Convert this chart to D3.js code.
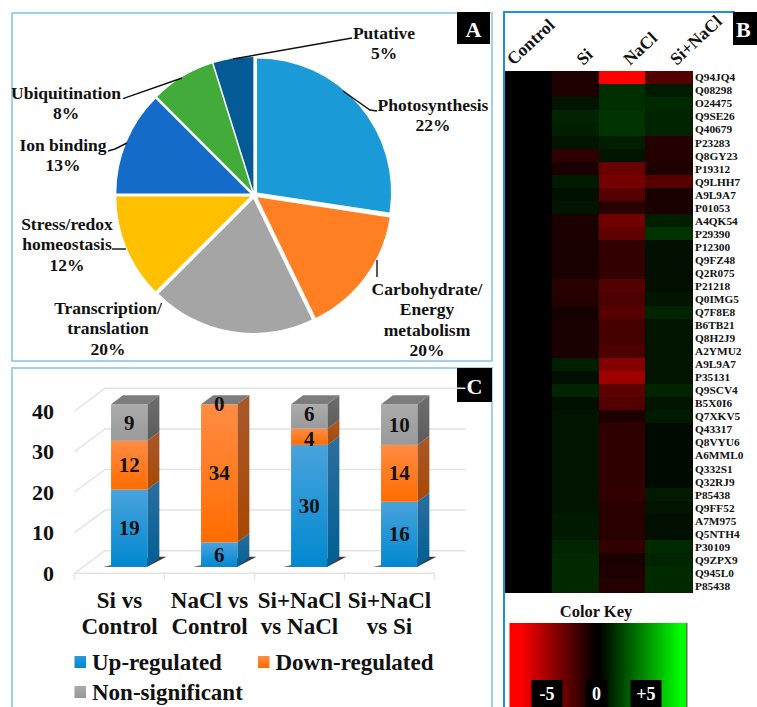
<!DOCTYPE html>
<html>
<head>
<meta charset="utf-8">
<script src="https://cdn.jsdelivr.net/npm/d3@7"></script>
<style>
  html, body { margin: 0; padding: 0; background: #fff; }
  svg { display: block; font-family: "Liberation Serif", serif; font-weight: bold; }
</style>
</head>
<body>
<svg width="757" height="707"></svg>
<script>
// Panel A. The slices in the picture are not drawn to their printed percentages,
// so the drawn shares and the printed labels are kept apart
const pieNames = ["Photosynthesis", "Carbohydrate", "Transcription", "Stress", "Ion binding", "Ubiquitination", "Putative"];
const pieShares = [27.4, 15.4, 19.7, 12.5, 12.5, 7.7, 4.8];
const piePercents = ["22%", "20%", "20%", "12%", "13%", "8%", "5%"];
const pieColors = ["#1a9ad6", "#ff7f22", "#a5a5a5", "#ffc000", "#146cc8", "#43ab3a", "#045a94"];

// Panel B
const heatColumns = ["Control", "Si", "NaCl", "Si+NaCl"];
const proteinIds = ["Q94JQ4", "Q08298", "O24475", "Q9SE26", "Q40679", "P23283", "Q8GY23", "P19312", "Q9LHH7", "A9L9A7",
  "P01053", "A4QK54", "P29390", "P12300", "Q9FZ48", "Q2R075", "P21218", "Q0IMG5", "Q7F8E8", "B6TB21",
  "Q8H2J9", "A2YMU2", "A9L9A7", "P35131", "Q9SCV4", "B5X0I6", "Q7XKV5", "Q43317", "Q8VYU6", "A6MML0",
  "Q332S1", "Q32RJ9", "P85438", "Q9FF52", "A7M975", "Q5NTH4", "P30109", "Q9ZPX9", "Q945L0", "P85438"];
const controlValues = [0, 0, 0, 0, 0, 0, 0, 0, 0, 0, 0, 0, 0, 0, 0, 0, 0, 0, 0, 0,
  0, 0, 0, 0, 0, 0, 0, 0, 0, 0, 0, 0, 0, 0, 0, 0, 0, 0, 0, 0];
const siValues = [-0.6, -0.6, 0.4, 0.7, 0.6, 0.4, -0.9, -0.5, 0.5, 0.3, 0.4, -0.5, -0.5, -0.5, -0.5, -0.5, -0.8, -0.7, -0.4, -0.5,
  -0.5, -0.5, 0.6, 0.3, 0.7, 0.3, 0.4, 0.4, 0.4, 0.4, 0.4, 0.4, 0.4, 0.4, 0.5, 0.5, 0.7, 0.8, 0.8, 0.8];
const naclValues = [-5, 0.9, 0.9, 1.0, 1.0, 0.6, 0.4, -2.1, -2.3, -1.7, -0.8, -2.2, -1.9, -1.0, -1.0, -1.0, -1.6, -1.5, -1.7, -1.4,
  -1.4, -1.5, -2.6, -3.1, -1.8, -1.6, -0.6, -0.9, -0.9, -0.9, -0.9, -0.9, -1.0, -0.8, -0.8, -0.8, -1.0, -0.5, -0.6, -0.7];
const siNaclValues = [-1.6, 0.5, 0.8, 0.7, 0.7, -0.7, -0.7, -0.6, -1.7, -0.5, -0.5, 0.6, 1.0, 0.3, 0.3, 0.3, 0.3, 0.4, 0.7, 0.4,
  0.4, 0.4, 0.4, 0.4, 0.7, 0.4, 0.5, 0.2, 0.2, 0.2, 0.2, 0.2, 0.5, 0.4, 0.3, 0.3, 0.8, 0.7, 0.8, 0.8];
const keyTicks = [-5, 0, 5];
const keyTickLabels = ["-5", "0", "+5"];

// Panel C
const barCategories = [["Si vs", "Control"], ["NaCl vs", "Control"], ["Si+NaCl", "vs NaCl"], ["Si+NaCl", "vs Si"]];
const upRegulated = [19, 6, 30, 16];
const downRegulated = [12, 34, 4, 14];
const nonSignificant = [9, 0, 6, 10];
const barTicks = [0, 10, 20, 30, 40];
const legendNames = ["Up-regulated", "Down-regulated", "Non-significant"];

const svg = d3.select("svg");
const defs = svg.append("defs");

function addGradient(id, top, bottom) {
    const g = defs.append("linearGradient").attr("id", id)
        .attr("x1", 0).attr("y1", 0).attr("x2", 0).attr("y2", 1);
    g.append("stop").attr("offset", "0%").attr("stop-color", top);
    g.append("stop").attr("offset", "100%").attr("stop-color", bottom);
}

function drawPanels() {
    svg.append("rect").attr("x", 12).attr("y", 13).attr("width", 480).attr("height", 348)
        .attr("fill", "none").attr("stroke", "#9ed2ef").attr("stroke-width", 2);
    svg.append("path").attr("d", "M12,710V368H492V710")
        .attr("fill", "none").attr("stroke", "#9ed2ef").attr("stroke-width", 2);
    svg.append("path").attr("d", "M504,710V12H735")
        .attr("fill", "none").attr("stroke", "#1f8fd6").attr("stroke-width", 2);

    const badges = [["A", 457, 12, 33, 32], ["B", 733, 12, 24, 33], ["C", 457, 368, 35, 34]];
    badges.forEach(([t, x, y, w, h]) => {
        svg.append("rect").attr("x", x).attr("y", y).attr("width", w).attr("height", h).attr("fill", "#000");
        svg.append("text").attr("x", x + (t == "B" ? 3 : w / 2)).attr("y", y + h / 2 + 1)
            .attr("text-anchor", t == "B" ? "start" : "middle").attr("dominant-baseline", "central")
            .attr("fill", "#fff").style("font-size", "22px").text(t);
    });
}

function drawPie() {
    const cx = 254, cy = 195, radius = 134, explode = 4;
    const arcs = d3.pie().sort(null)(pieShares);
    const arc = d3.arc().innerRadius(0).outerRadius(radius);

    svg.append("g").selectAll("path")
        .data(arcs)
        .enter()
        .append("path")
        .attr("d", arc)
        .attr("fill", (d, i) => pieColors[i])
        .attr("transform", d => {
            const mid = (d.startAngle + d.endAngle) / 2;
            return `translate(${cx + explode * Math.sin(mid)}, ${cy - explode * Math.cos(mid)})`;
        });

    // подписи: строки, центр первой строки, линия-выноска
    const layout = [
        { lines: ["Photosynthesis"], x: 433, y: 105, leader: [[377, 111], [370, 110], [343, 91]] },
        { lines: ["Carbohydrate/", "Energy", "metabolism"], x: 427, y: 289, leader: [[377, 260], [377, 277]] },
        { lines: ["Transcription/", "translation"], x: 108, y: 308, leader: null },
        { lines: ["Stress/redox", "homeostasis"], x: 67, y: 224, leader: [[112, 249], [126, 249]] },
        { lines: ["Ion binding"], x: 63, y: 145, leader: [[108, 151], [115, 149], [127, 143]] },
        { lines: ["Ubiquitination"], x: 66, y: 93, leader: [[123, 98.7], [182, 78]] },
        { lines: ["Putative"], x: 384, y: 33, leader: [[352, 38], [233, 59]] }
    ];

    layout.forEach((l, i) => {
        l.lines.concat(piePercents[i]).forEach((t, k) => {
            svg.append("text").attr("x", l.x).attr("y", l.y + k * 20.3)
                .attr("text-anchor", "middle").attr("dominant-baseline", "central")
                .style("font-size", "17.5px").attr("fill", "#111").text(t);
        });
        if (l.leader) {
            svg.append("path").attr("d", d3.line()(l.leader))
                .attr("fill", "none").attr("stroke", "#111").attr("stroke-width", 1.4);
        }
    });
}

function drawHeatmap() {
    const scaleX = d3.scaleBand().domain(heatColumns).range([505, 692]);
    const scaleY = d3.scaleBand().domain(d3.range(proteinIds.length)).range([70.8, 592.4]);
    const color = d3.scaleLinear().domain([-5, 0, 5]).range(["#ff0000", "#000000", "#00ff00"]);
    const columnValues = [controlValues, siValues, naclValues, siNaclValues];

    heatColumns.forEach((name, c) => {
        svg.append("g").attr("shape-rendering", "crispEdges").selectAll("rect")
            .data(columnValues[c])
            .enter()
            .append("rect")
            .attr("x", scaleX(name))
            .attr("y", (d, i) => scaleY(i))
            .attr("width", scaleX.bandwidth() + 0.5)
            .attr("height", scaleY.bandwidth() + 0.5)
            .attr("fill", d => color(d));

        const shift = name == "Control" ? -15 : 8;
        svg.append("text")
            .attr("transform", `translate(${scaleX(name) + scaleX.bandwidth() / 2 + shift}, 66) rotate(-43)`)
            .style("font-size", "17.5px").attr("fill", "#111").text(name);
    });

    svg.append("g").selectAll("text")
        .data(proteinIds)
        .enter()
        .append("text")
        .attr("x", 695)
        .attr("y", (d, i) => scaleY(i) + scaleY.bandwidth() / 2)
        .attr("dominant-baseline", "central")
        .style("font-size", "11.3px").attr("fill", "#111")
        .text(d => d);

    // цветовая шкала
    svg.append("text").attr("x", 596).attr("y", 611).attr("text-anchor", "middle")
        .attr("dominant-baseline", "central").style("font-size", "16.5px").attr("fill", "#111").text("Color Key");

    const grad = defs.append("linearGradient").attr("id", "keyGrad");
    [[0.06, -5], [0.49, 0], [0.51, 0], [0.97, 5]].forEach(([o, v]) => {
        grad.append("stop").attr("offset", o).attr("stop-color", color(v));
    });
    svg.append("rect").attr("x", 509.5).attr("y", 623).attr("width", 177).attr("height", 84).attr("fill", "url(#keyGrad)");
    svg.append("rect").attr("x", 686).attr("y", 623).attr("width", 1.5).attr("height", 84).attr("fill", "#666");

    const keyX = d3.scaleLinear().domain([-5, 5]).range([547, 646]);
    const boxWidths = [31, 22, 31];
    keyTicks.forEach((v, i) => {
        svg.append("rect").attr("x", keyX(v) - boxWidths[i] / 2).attr("y", 680).attr("width", boxWidths[i]).attr("height", 27).attr("fill", "#000");
        svg.append("text").attr("x", keyX(v)).attr("y", 694).attr("text-anchor", "middle")
            .attr("dominant-baseline", "central").attr("fill", "#fff").style("font-size", "18px").text(keyTickLabels[i]);
    });
}

function drawBars() {
    addGradient("upFront", "#4aa3dd", "#0088d0");
    addGradient("upSide", "#2c6f9f", "#005f94");
    addGradient("downFront", "#ff8c44", "#ff6c00");
    addGradient("downSide", "#a9582c", "#a84800");
    addGradient("nonFront", "#ababab", "#9a9a9a");
    addGradient("nonSide", "#6e6e6e", "#5c5c5c");
    addGradient("legUp", "#2a98dc", "#0088d0");
    addGradient("legDown", "#ff8c44", "#ff6c00");
    addGradient("legNon", "#ababab", "#979797");

    const depthX = 12, depthY = 9;
    const axisX = d3.scaleBand().domain(d3.range(barCategories.length)).range([74.5, 434.5]);
    const scaleY = d3.scaleLinear().domain([0, 40]).range([566.7, 404.3]);
    const floorY = d3.scaleLinear().domain([0, 40]).range([573.3, 411]);
    const wallY = d3.scaleLinear().domain([0, 40]).range([550.7, 388.3]);
    const wallX0 = 105, wallX1 = 465.5;

    // задняя стенка и сетка
    const grid = svg.append("g").attr("stroke", "#e4e4e4").attr("stroke-width", 1.5).attr("fill", "none");
    barTicks.forEach(v => {
        grid.append("path").attr("d", `M${axisX.range()[0]},${floorY(v)}L${wallX0},${wallY(v)}L${wallX1},${wallY(v)}`);
    });
    grid.append("path").attr("d", `M74.5,${floorY(0)}H434.5`);
    d3.range(barCategories.length + 1).forEach(i => {
        const x = 74.5 + i * axisX.step();
        grid.append("path").attr("d", `M${x},${floorY(0)}v6.5`);
    });

    svg.append("g").selectAll("text")
        .data(barTicks)
        .enter()
        .append("text")
        .attr("x", 54)
        .attr("y", d => floorY(d))
        .attr("text-anchor", "end").attr("dominant-baseline", "central")
        .style("font-size", "22px").attr("fill", "#111")
        .text(d => d);

    const layers = [
        { values: upRegulated, key: "up" },
        { values: downRegulated, key: "down" },
        { values: nonSignificant, key: "non" }
    ];
    const barWidth = 36.3;

    barCategories.forEach((cat, i) => {
        const x0 = axisX(i) + axisX.bandwidth() / 2 + 9.7 - barWidth / 2;
        const x1 = x0 + barWidth;
        const bottom = scaleY(0);

        svg.append("path")
            .attr("d", `M${x0 - 8},${bottom}L${x1},${bottom}L${x1 + 19},${bottom - 10}L${x1 + 9},${bottom - 10}Z`)
            .attr("fill", "#3c3c3c");

        let sum = 0;
        layers.forEach(layer => {
            const v = layer.values[i];
            const yBottom = scaleY(sum), yTop = scaleY(sum + v);
            if (v > 0) {
                svg.append("path")
                    .attr("d", `M${x1},${yBottom}L${x1 + depthX},${yBottom - depthY}L${x1 + depthX},${yTop - depthY}L${x1},${yTop}Z`)
                    .attr("fill", `url(#${layer.key}Side)`);
                svg.append("rect")
                    .attr("x", x0).attr("y", yTop).attr("width", barWidth).attr("height", yBottom - yTop)
                    .attr("fill", `url(#${layer.key}Front)`);
            }
            sum += v;
        });

        svg.append("path")
            .attr("d", `M${x0},${scaleY(sum)}L${x1},${scaleY(sum)}L${x1 + depthX},${scaleY(sum) - depthY}L${x0 + depthX},${scaleY(sum) - depthY}Z`)
            .attr("fill", "#7c7c7c");

        sum = 0;
        layers.forEach(layer => {
            const v = layer.values[i];
            // 4 и 6 в третьем столбце стоят слишком близко, немного разводим
            const nudge = i == 2 && layer.key == "down" ? 2 : i == 2 && layer.key == "non" ? -2 : 0;
            svg.append("text")
                .attr("x", (x0 + x1) / 2)
                .attr("y", scaleY(sum + v / 2) + nudge)
                .attr("text-anchor", "middle").attr("dominant-baseline", "central")
                .style("font-size", "21px").attr("fill", "#111")
                .text(v);
            sum += v;
        });

        cat.forEach((t, k) => {
            svg.append("text")
                .attr("x", axisX(i) + axisX.bandwidth() / 2)
                .attr("y", 600 + k * 26)
                .attr("text-anchor", "middle").attr("dominant-baseline", "central")
                .style("font-size", "23px").attr("fill", "#111")
                .text(t);
        });
    });

    const legendPos = [[74.5, 662], [258, 662], [74.5, 692]];
    const legendFills = ["url(#legUp)", "url(#legDown)", "url(#legNon)"];
    legendNames.forEach((name, i) => {
        const [x, y] = legendPos[i];
        svg.append("rect").attr("x", x).attr("y", y - 6).attr("width", 11.5).attr("height", 12).attr("fill", legendFills[i]);
        svg.append("text").attr("x", x + 17.5).attr("y", y)
            .attr("dominant-baseline", "central")
            .style("font-size", "23px").attr("fill", "#111").text(name);
    });
}

drawPanels();
drawPie();
drawHeatmap();
drawBars();
</script>
</body>
</html>
